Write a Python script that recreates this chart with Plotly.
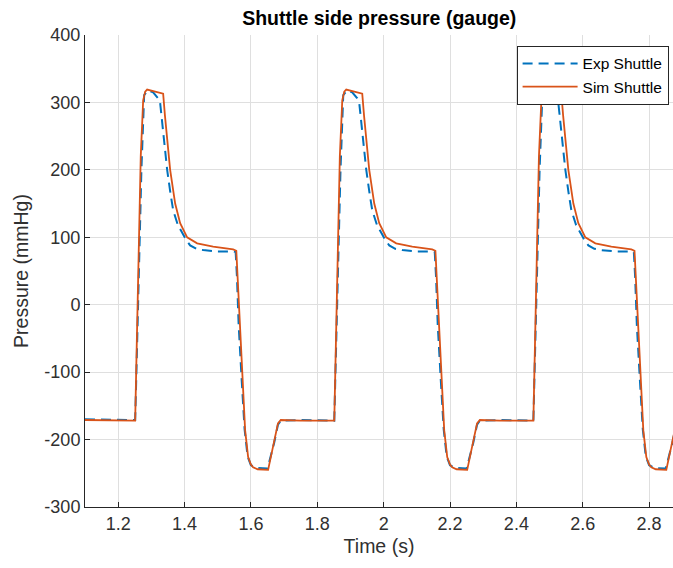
import plotly.graph_objects as go

# ---- data ----
t_exp = [1.100, 1.2512, 1.2550, 1.2620, 1.2700, 1.2783, 1.2904, 1.3054, 1.3205, 1.3265, 1.3340, 1.3416,
         1.3476, 1.3570, 1.3657, 1.3800, 1.3928, 1.4050, 1.4169, 1.4350, 1.4560, 1.5000, 1.5464, 1.5540,
         1.5580, 1.5630, 1.5720, 1.5810, 1.5900, 1.6000, 1.6150, 1.6500, 1.6700, 1.6815, 1.6900, 1.7500,
         1.8512, 1.8550, 1.8620, 1.8700, 1.8783, 1.8904, 1.9054, 1.9205, 1.9265, 1.9340, 1.9416,
         1.9476, 1.9570, 1.9657, 1.9800, 1.9928, 2.0050, 2.0169, 2.0350, 2.0560, 2.1000, 2.1464, 2.1540,
         2.1580, 2.1630, 2.1720, 2.1810, 2.1900, 2.2000, 2.2150, 2.2500, 2.2700, 2.2815, 2.2900, 2.3500,
         2.4512, 2.4550, 2.4620, 2.4700, 2.4783, 2.4904, 2.5054, 2.5205, 2.5265, 2.5340, 2.5416,
         2.5476, 2.5570, 2.5657, 2.5800, 2.5928, 2.6050, 2.6169, 2.6350, 2.6560, 2.7000, 2.7464, 2.7540,
         2.7580, 2.7630, 2.7720, 2.7810, 2.7900, 2.8000, 2.8150, 2.8500, 2.8700, 2.8815, 2.8900]
p_exp = [-170, -171, -100, 30, 200, 311, 318, 315, 306, 299, 265, 225,
         200, 167, 140, 118, 106, 96, 88, 83, 81, 79, 79, 78,
         40, -30, -110, -185, -225, -238, -242, -243, -205, -178, -172, -171,
         -172, -100, 30, 200, 311, 318, 315, 306, 299, 265, 225,
         200, 167, 140, 118, 106, 96, 88, 83, 81, 79, 79, 78,
         40, -30, -110, -185, -225, -238, -242, -243, -205, -178, -172, -171,
         -172, -100, 30, 200, 311, 318, 315, 306, 299, 265, 225,
         200, 167, 140, 118, 106, 96, 88, 83, 81, 79, 79, 78,
         40, -30, -110, -185, -225, -238, -242, -243, -205, -178, -172]

t_sim = [1.100, 1.2000, 1.2512, 1.2542, 1.2602, 1.2680, 1.2753, 1.2813, 1.2873, 1.3100, 1.3355, 1.3410,
         1.3476, 1.3566, 1.3717, 1.3867, 1.4078, 1.4380, 1.4861, 1.5464, 1.5560, 1.5600, 1.5650, 1.5735,
         1.5825, 1.5916, 1.6000, 1.6066, 1.6200, 1.6518, 1.6700, 1.6815, 1.6900, 1.7500,
         1.8512, 1.8542, 1.8602, 1.8680, 1.8753, 1.8813, 1.8873, 1.9100, 1.9355, 1.9410,
         1.9476, 1.9566, 1.9717, 1.9867, 2.0078, 2.0380, 2.0861, 2.1464, 2.1560, 2.1600, 2.1650, 2.1735,
         2.1825, 2.1916, 2.2000, 2.2066, 2.2200, 2.2518, 2.2700, 2.2815, 2.2900, 2.3500,
         2.4512, 2.4542, 2.4602, 2.4680, 2.4753, 2.4813, 2.4873, 2.5100, 2.5355, 2.5410,
         2.5476, 2.5566, 2.5717, 2.5867, 2.6078, 2.6380, 2.6861, 2.7464, 2.7560, 2.7600, 2.7650, 2.7735,
         2.7825, 2.7916, 2.8000, 2.8066, 2.8200, 2.8518, 2.8700, 2.8815, 2.8900]
p_sim = [-171, -172, -172, -100, 51, 220, 303, 316, 319, 316, 313, 280,
         249, 200, 150, 121, 100, 91, 86, 82, 80, 40, -30, -112,
         -186, -226, -237, -241, -244, -245, -200, -176, -171, -172,
         -172, -100, 51, 220, 303, 316, 319, 316, 313, 280,
         249, 200, 150, 121, 100, 91, 86, 82, 80, 40, -30, -112,
         -186, -226, -237, -241, -244, -245, -200, -176, -171, -172,
         -172, -100, 51, 220, 303, 316, 319, 316, 313, 280,
         249, 200, 150, 121, 100, 91, 86, 82, 80, 40, -30, -112,
         -186, -226, -237, -241, -244, -245, -200, -176, -171]

x_ticks = [1.2, 1.4, 1.6, 1.8, 2.0, 2.2, 2.4, 2.6, 2.8]
x_ticktext = ["1.2", "1.4", "1.6", "1.8", "2", "2.2", "2.4", "2.6", "2.8"]
y_ticks = [-300, -200, -100, 0, 100, 200, 300, 400]
y_ticktext = ["-300", "-200", "-100", "0", "100", "200", "300", "400"]

BLUE = "#0072BD"
ORANGE = "#D95319"
AX = "#262626"
TXT = "#303030"
GRID = "#DFDFDF"
FONT = "Liberation Sans, Arial, sans-serif"

fig = go.Figure()
fig.add_trace(go.Scatter(x=t_exp, y=p_exp, mode="lines", name="Exp Shuttle",
                         line=dict(color=BLUE, width=2, dash="10px,6px")))
fig.add_trace(go.Scatter(x=t_sim, y=p_sim, mode="lines", name="Sim Shuttle",
                         line=dict(color=ORANGE, width=1.8)))

fig.update_layout(
    width=673, height=568,
    margin=dict(l=85, r=0, t=35, b=61),
    paper_bgcolor="white", plot_bgcolor="white",
    font=dict(family=FONT, color=TXT, size=18),
    title=dict(text="<b>Shuttle side pressure (gauge)</b>", x=0.5635, xanchor="center",
               y=0.968, yanchor="middle", font=dict(size=19.5, color="black")),
    showlegend=True,
    legend=dict(x=0.9925, y=0.977, xanchor="right", yanchor="top",
                bgcolor="white", bordercolor=AX, borderwidth=1,
                font=dict(size=15.5, color="black"), tracegroupgap=0,
                itemwidth=55),
)
fig.update_xaxes(range=[1.1, 2.872], tickvals=x_ticks, ticktext=x_ticktext,
                 showgrid=True, gridcolor=GRID, gridwidth=1,
                 showline=True, linecolor=AX, linewidth=1,
                 ticks="inside", ticklen=5, tickcolor=AX, zeroline=False,
                 title=dict(text="Time (s)", font=dict(size=19.5), standoff=6),
                 tickfont=dict(size=18))
fig.update_yaxes(range=[-300, 400], tickvals=y_ticks, ticktext=y_ticktext,
                 showgrid=True, gridcolor=GRID, gridwidth=1,
                 showline=True, linecolor=AX, linewidth=1,
                 ticks="inside", ticklen=5, tickcolor=AX, zeroline=False,
                 title=dict(text="Pressure (mmHg)", font=dict(size=19.5), standoff=10),
                 tickfont=dict(size=18))

fig.write_html("out.html")
